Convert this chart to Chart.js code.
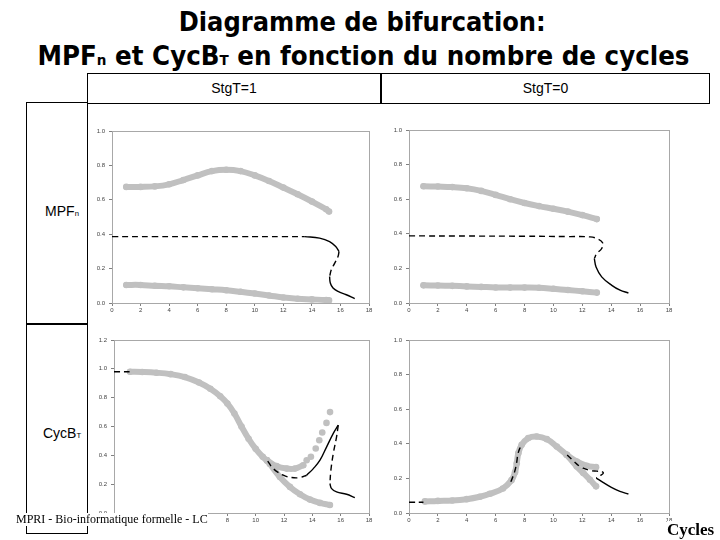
<!DOCTYPE html>
<html><head><meta charset="utf-8">
<script src="https://cdn.jsdelivr.net/npm/chart.js@4.4.0/dist/chart.umd.min.js"></script>
<style>
html,body{margin:0;padding:0;background:#fff;}
#page{position:relative;width:720px;height:540px;overflow:hidden;background:#fff;font-family:"Liberation Sans",Arial,sans-serif;}
.title{position:absolute;width:720px;text-align:center;font-family:"DejaVu Sans",sans-serif;font-weight:bold;font-size:26px;white-space:nowrap;line-height:26px;color:#000;}
.title .t{display:inline-block;transform-origin:50% 50%;}
.sub{font-size:55%;}
.box{position:absolute;box-sizing:border-box;border:1px solid #000;}
.lbl{position:absolute;font-size:14px;color:#000;text-align:center;white-space:nowrap;}
canvas{position:absolute;}
</style></head><body><div id="page">
<div class="title" id="t1" style="top:9px;left:2px"><span class="t">Diagramme de bifurcation:</span></div>
<div class="title" id="t2" style="top:43px;left:4px"><span class="t">MPF<span class="sub">n</span> et CycB<span class="sub">T</span> en fonction du nombre de cycles</span></div>

<div class="box" style="left:87px;top:73px;width:623px;height:31px;"></div>
<div style="position:absolute;left:380px;top:73px;width:2px;height:31px;background:#000"></div>
<div class="lbl" style="left:87px;top:80px;width:294px;">StgT=1</div>
<div class="lbl" style="left:382px;top:80px;width:327px;">StgT=0</div>

<div class="box" style="left:26px;top:102px;width:62px;height:432px;"></div>
<div style="position:absolute;left:26px;top:323px;width:62px;height:2px;background:#000"></div>
<div class="lbl" style="left:27px;top:203px;width:70px;">MPF<span class="sub">n</span></div>
<div class="lbl" style="left:27px;top:425px;width:70px;">CycB<span class="sub">T</span></div>

<canvas id="cA"></canvas><canvas id="cB"></canvas><canvas id="cC"></canvas><canvas id="cD"></canvas>

<div style="position:absolute;left:16px;top:513px;font-family:'Liberation Serif',serif;font-size:12px;background:#fff;line-height:13px;white-space:nowrap;">MPRI - Bio-informatique formelle - LC</div>
<div style="position:absolute;left:667px;top:521px;font-family:'Liberation Serif',serif;font-weight:bold;font-size:17px;line-height:17px;background:#fff;white-space:nowrap;">Cycles</div>
</div>
<script>
// ---- tick labels ----
const xTicks = [0,2,4,6,8,10,12,14,16,18];
const yTicks1 = [0,0.2,0.4,0.6,0.8,1.0];
const yLabels1 = ['0.0','0.2','0.4','0.6','0.8','1.0'];
const yTicks12 = [0,0.2,0.4,0.6,0.8,1.0,1.2];
const yLabels12 = ['0.0','0.2','0.4','0.6','0.8','1.0','1.2'];

// ---- Panel A : MPFn, StgT=1 ----
const A_grayUp_x  = [1,2,3,4,5,6,7,8,9,10,11,12,13,14,15,15.2];
const A_grayUp_y  = [0.675,0.675,0.678,0.690,0.715,0.742,0.767,0.775,0.767,0.742,0.709,0.671,0.632,0.590,0.545,0.532];
const A_grayLow_x = [1,2,3,4,5,6,7,8,9,10,11,12,13,14,15,15.2];
const A_grayLow_y = [0.105,0.105,0.100,0.097,0.091,0.086,0.080,0.074,0.065,0.055,0.044,0.032,0.025,0.021,0.017,0.015];
const A_unst1_x = [0,3,6,9,12,13.5];
const A_unst1_y = [0.386,0.386,0.386,0.386,0.386,0.386];
const A_stab1_x = [13.5,14.54,15.24,15.67,15.9];
const A_stab1_y = [0.386,0.377,0.357,0.328,0.299];
const A_unst2_x = [15.9,15.83,15.6,15.36,15.24];
const A_unst2_y = [0.299,0.270,0.232,0.193,0.154];
const A_stab2_x = [15.24,15.29,15.48,15.83,16.41,17.0];
const A_stab2_y = [0.154,0.116,0.087,0.067,0.048,0.025];

// ---- Panel B : MPFn, StgT=0 ----
const B_grayUp_x  = [1,2,3,4,5,6,7,8,9,10,11,12,13];
const B_grayUp_y  = [0.675,0.673,0.670,0.663,0.648,0.625,0.600,0.578,0.560,0.545,0.528,0.508,0.485];
const B_grayLow_x = [1,2,3,4,5,6,7,8,9,10,11,12,13];
const B_grayLow_y = [0.102,0.101,0.099,0.096,0.093,0.090,0.089,0.089,0.088,0.082,0.075,0.068,0.060];
const B_unst_x = [0,4,8,11,12.53,13.11,13.41,13.34,13.0,12.83];
const B_unst_y = [0.388,0.387,0.386,0.384,0.382,0.369,0.347,0.315,0.286,0.257];
const B_stab_x = [12.83,12.95,13.34,14.04,14.61,15.19];
const B_stab_y = [0.257,0.208,0.151,0.102,0.074,0.058];

// ---- Panel C : CycBT, StgT=1 ----
const C_grayMain_x = [1.13,2,3,4,5,6,6.8,7.5,8,8.5,9,9.5,10,10.5,10.8];
const C_grayMain_y = [0.98,0.978,0.973,0.963,0.943,0.905,0.862,0.81,0.76,0.69,0.60,0.515,0.445,0.39,0.365];
const C_grayUp_x = [10.8,11.48,12.19,12.77,13.36];
const C_grayUp_y = [0.365,0.325,0.308,0.308,0.331];
const C_grayDots_x = [13.6,13.9,14.24,14.49,14.7,15.0,15.25];
const C_grayDots_y = [0.366,0.39,0.447,0.505,0.558,0.625,0.70];
const C_grayLow_x = [10.8,11.0,11.71,12.42,13.13,13.83,14.54,15.24];
const C_grayLow_y = [0.365,0.34,0.25,0.181,0.130,0.093,0.070,0.056];
const C_unst0_x = [0,1.1];
const C_unst0_y = [0.98,0.98];
const C_unst1_x = [10.85,11.24,11.95,12.54,13.13,13.6];
const C_unst1_y = [0.36,0.308,0.262,0.246,0.246,0.262];
const C_stab1_x = [13.6,14.07,14.54,15.01,15.48,15.83];
const C_stab1_y = [0.262,0.308,0.366,0.459,0.552,0.609];
const C_unst2_x = [15.83,15.71,15.48,15.31,15.24];
const C_unst2_y = [0.609,0.528,0.413,0.297,0.204];
const C_stab2_x = [15.24,15.36,15.71,16.42,17.0];
const C_stab2_y = [0.204,0.169,0.146,0.130,0.107];

// ---- Panel D : CycBT, StgT=0 ----
const D_grayMain_x = [1.1,2,3,4,4.9,5.6,6.5,7.1,7.34,7.46,7.57,7.8,8.26,8.84,9.54,10.23,10.92];
const D_grayMain_y = [0.067,0.070,0.072,0.080,0.094,0.111,0.142,0.19,0.235,0.288,0.346,0.394,0.433,0.442,0.427,0.384,0.336];
const D_grayUp_x = [10.92,11.61,12.31,12.95];
const D_grayUp_y = [0.336,0.298,0.273,0.265];
const D_grayLow_x = [10.92,11.61,12.07,12.53,12.95];
const D_grayLow_y = [0.336,0.269,0.231,0.192,0.154];
const D_unst0_x = [0,1.0];
const D_unst0_y = [0.062,0.062];
const D_unstRise_x = [7.05,7.3,7.45,7.55,7.75];
const D_unstRise_y = [0.18,0.235,0.29,0.345,0.39];
const D_unst2_x = [10.95,11.4,11.84,12.53,13.0,13.34,13.45,13.2,12.97];
const D_unst2_y = [0.335,0.30,0.269,0.246,0.242,0.240,0.230,0.214,0.202];
const D_stab_x = [12.97,13.43,14.01,14.6,15.19];
const D_stab_y = [0.202,0.177,0.148,0.125,0.110];

// ---- helpers ----
const GRAY = '#c0c0c0';
const pts = (xs, ys) => xs.map((x, i) => ({x: x, y: ys[i]}));
function grayLine(xs, ys){
  return {data: pts(xs, ys), showLine: true, borderColor: GRAY, backgroundColor: GRAY, borderWidth: 6,
    pointRadius: 3.3, pointBorderWidth: 0, pointBackgroundColor: GRAY, pointBorderColor: GRAY,
    tension: 0.4, borderCapStyle: 'round', borderJoinStyle: 'round'};
}
function grayDots(xs, ys){
  return {data: pts(xs, ys), showLine: false, pointRadius: 3.3, pointBorderWidth: 0,
    pointBackgroundColor: GRAY, pointBorderColor: GRAY, backgroundColor: GRAY};
}
function blackLine(xs, ys, dashed){
  return {data: pts(xs, ys), showLine: true, borderColor: '#000', backgroundColor: '#000', borderWidth: 1.4,
    pointRadius: 0, tension: 0.4, borderDash: dashed ? [6, 4] : []};
}
const framePlugin = {
  id: 'frame',
  beforeDatasetsDraw(chart){
    const a = chart.chartArea, c = chart.ctx;
    c.save(); c.strokeStyle = '#a8a8a8'; c.lineWidth = 1;
    c.strokeRect(Math.round(a.left) + 0.5, Math.round(a.top) + 0.5, Math.round(a.right - a.left), Math.round(a.bottom - a.top));
    c.restore();
  }
};
const tickFont = {family: "'Liberation Sans', Arial, sans-serif", size: 6};
function makePanel(id, area, yMax, yVals, yLabs, datasets){
  const cv = document.getElementById(id);
  const L = 30, T = 12, R = 16, B = 16;
  const w = area.r - area.l + L + R, h = area.b - area.t + T + B;
  cv.width = w; cv.height = h;
  cv.style.left = (area.l - L) + 'px'; cv.style.top = (area.t - T) + 'px';
  cv.style.width = w + 'px'; cv.style.height = h + 'px';
  new Chart(cv, {
    type: 'scatter',
    data: {datasets: datasets},
    options: {
      responsive: false, animation: false, devicePixelRatio: 1,
      layout: {padding: {left: 0, top: T, right: R, bottom: 0}},
      plugins: {legend: {display: false}, tooltip: {enabled: false}},
      scales: {
        x: {type: 'linear', min: 0, max: 18,
          afterFit: s => { s.height = B; },
          afterBuildTicks: s => { s.ticks = xTicks.map(v => ({value: v})); },
          ticks: {font: tickFont, color: '#444', padding: 1, maxRotation: 0, autoSkip: false,
            callback: v => String(v)},
          grid: {display: true, drawOnChartArea: false, drawTicks: true, tickLength: 3, color: '#808080'},
          border: {display: true, color: '#808080'}},
        y: {type: 'linear', min: 0, max: yMax,
          afterFit: s => { s.width = L; },
          afterBuildTicks: s => { s.ticks = yVals.map(v => ({value: v})); },
          ticks: {font: tickFont, color: '#444', padding: 4, autoSkip: false,
            callback: (v, i) => yLabs[i]},
          grid: {display: true, drawOnChartArea: false, drawTicks: true, tickLength: 3, color: '#808080'},
          border: {display: true, color: '#808080'}}
      }
    },
    plugins: [framePlugin]
  });
}

makePanel('cA', {l: 112, t: 131, r: 369, b: 303}, 1.0, yTicks1, yLabels1, [
  blackLine(A_unst1_x, A_unst1_y, true), blackLine(A_stab1_x, A_stab1_y, false),
  blackLine(A_unst2_x, A_unst2_y, true), blackLine(A_stab2_x, A_stab2_y, false),
  grayLine(A_grayUp_x, A_grayUp_y), grayLine(A_grayLow_x, A_grayLow_y)
]);
makePanel('cB', {l: 409, t: 130, r: 669, b: 303}, 1.0, yTicks1, yLabels1, [
  blackLine(B_unst_x, B_unst_y, true), blackLine(B_stab_x, B_stab_y, false),
  grayLine(B_grayUp_x, B_grayUp_y), grayLine(B_grayLow_x, B_grayLow_y)
]);
makePanel('cC', {l: 114, t: 340, r: 369, b: 513}, 1.2, yTicks12, yLabels12, [
  blackLine(C_unst0_x, C_unst0_y, true), blackLine(C_unst1_x, C_unst1_y, true),
  blackLine(C_stab1_x, C_stab1_y, false), blackLine(C_unst2_x, C_unst2_y, true),
  blackLine(C_stab2_x, C_stab2_y, false),
  grayLine(C_grayMain_x, C_grayMain_y), grayLine(C_grayUp_x, C_grayUp_y),
  grayDots(C_grayDots_x, C_grayDots_y), grayLine(C_grayLow_x, C_grayLow_y)
]);
makePanel('cD', {l: 409, t: 340, r: 669, b: 513}, 1.0, yTicks1, yLabels1, [
  blackLine(D_unst0_x, D_unst0_y, true), blackLine(D_unstRise_x, D_unstRise_y, true),
  blackLine(D_unst2_x, D_unst2_y, true), blackLine(D_stab_x, D_stab_y, false),
  grayLine(D_grayMain_x, D_grayMain_y), grayLine(D_grayUp_x, D_grayUp_y), grayLine(D_grayLow_x, D_grayLow_y)
]);

function fit(id, target){
  const s = document.querySelector('#' + id + ' .t');
  const w = s.getBoundingClientRect().width;
  if (w > 0) s.style.transform = 'scaleX(' + (target / w) + ')';
}
fit('t1', 367);
fit('t2', 652);
</script>
</body></html>
